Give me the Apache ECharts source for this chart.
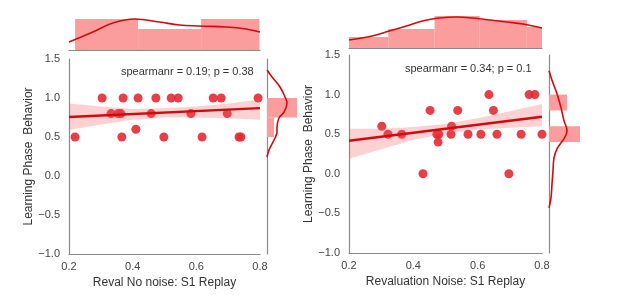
<!DOCTYPE html>
<html>
<head>
<meta charset="utf-8">
<script src="https://cdn.jsdelivr.net/npm/echarts@6/dist/echarts.min.js"></script>
<style>
  html, body { margin: 0; padding: 0; background: #fff; }
  #main { width: 617px; height: 295px; }
</style>
</head>
<body>
<div id="main"></div>
<script>
// ---- left panel: Reval No noise ----
var leftX = [0.304, 0.370, 0.417, 0.473, 0.521, 0.543, 0.653, 0.678, 0.794,
  0.332, 0.354, 0.363, 0.458, 0.583, 0.697,
  0.410,
  0.219, 0.366, 0.498, 0.618, 0.734, 0.740];
var leftY = [1, 1, 1, 1, 1, 1, 1, 1, 1,
  0.8, 0.8, 0.8, 0.8, 0.8, 0.8,
  0.6,
  0.5, 0.5, 0.5, 0.5, 0.5, 0.5];
var leftFitX = [0.2, 0.8];
var leftFitY = [0.756, 0.87];
var ciX = [0.2, 0.3, 0.4, 0.5, 0.6, 0.7, 0.8];
var leftLo = [0.59, 0.66, 0.72, 0.75, 0.75, 0.74, 0.72];
var leftHi = [0.93, 0.89, 0.86, 0.87, 0.89, 0.93, 0.98];
var leftTopEdges = [0.219, 0.417, 0.615, 0.798];
var leftTopHist = [31, 21, 31];
var leftTopKdeX = [0.2, 0.275, 0.3375, 0.406, 0.484, 0.547, 0.609, 0.694, 0.756, 0.8];
var leftTopKde = [8, 18, 27, 31, 28, 25, 24, 23, 21, 18];
var leftSideEdges = [[0.75, 1.0], [0.5, 0.75]];
var leftSideHist = [30, 7];
var leftSideKdeY = [1.359, 1.27, 1.141, 1.013, 0.936, 0.82, 0.744, 0.628, 0.564, 0.462, 0.333, 0.244];
var leftSideKde = [0, 5, 13, 18, 20, 17, 12, 10, 10, 7, 2, 0];

// ---- right panel: Revaluation Noise ----
var rightX = [0.635, 0.760, 0.778,
  0.452, 0.538, 0.649,
  0.302, 0.519,
  0.321, 0.364, 0.473, 0.479, 0.517, 0.570, 0.610, 0.660, 0.735, 0.800,
  0.477,
  0.430, 0.697];
var rightY = [1, 1, 1,
  0.8, 0.8, 0.8,
  0.6, 0.6,
  0.5, 0.5, 0.5, 0.5, 0.5, 0.5, 0.5, 0.5, 0.5, 0.5,
  0.4,
  0, 0];
var rightFitX = [0.2, 0.8];
var rightFitY = [0.418, 0.72];
var rightLo = [0.19, 0.31, 0.43, 0.51, 0.56, 0.58, 0.60];
var rightHi = [0.57, 0.57, 0.59, 0.63, 0.70, 0.79, 0.88];
var rightTopEdges = [0.2, 0.322, 0.466, 0.606, 0.753, 0.8];
var rightTopHist = [11, 19, 32, 28, 21];
var rightTopKdeX = [0.2, 0.272, 0.325, 0.378, 0.428, 0.481, 0.534, 0.584, 0.638, 0.691, 0.741, 0.8];
var rightTopKde = [8, 12, 17, 22, 27, 30, 31, 30, 28, 26, 24, 20];
var rightSideEdges = [[0.8, 1.0], [0.4, 0.6]];
var rightSideHist = [18, 31];
var rightSideKdeY = [1.30, 1.18, 1.01, 0.835, 0.67, 0.544, 0.443, 0.316, 0.2, 0.038, -0.127, -0.304, -0.43];
var rightSideKde = [0, 3, 8, 12, 15, 18, 15, 8, 5, 4, 3, 2, 0];

var stats = ['spearmanr = 0.19; p = 0.38', 'spearmanr = 0.34; p = 0.1'];
var xNames = ['Reval No noise: S1 Replay', 'Revaluation Noise: S1 Replay'];
var yName = 'Learning Phase  Behavior';

var FONT = 'Liberation Sans, Arial, sans-serif';
var SPINE = '#8a8a8a';
var DOT = '#e42a33';
var LINE = '#cf0a10';
var HIST = '#fb9d9d';
var BAND = 'rgba(240, 90, 90, 0.28)';

function fmt(v) {
  return v.toFixed(1).replace('-', '\u2212');
}
function zip(a, b) {
  return a.map(function (v, i) { return [v, b[i]]; });
}

var chartDom = document.getElementById('main');
var myChart = echarts.init(chartDom);

// grid indices: 0 main L, 1 top L, 2 side L, 3 main R, 4 top R, 5 side R
var grid = [
  { left: 69, top: 59, width: 191, height: 195 },
  { left: 69, top: 15, width: 191, height: 35 },
  { left: 267, top: 59, width: 40, height: 195 },
  { left: 349, top: 55, width: 193, height: 198 },
  { left: 349, top: 13, width: 193, height: 35 },
  { left: 549, top: 55, width: 40, height: 198 }
];

function mainX(gi, name) {
  return {
    gridIndex: gi, type: 'value', min: 0.2, max: 0.8, interval: 0.2,
    name: name, nameLocation: 'middle', nameGap: 19,
    nameTextStyle: { fontFamily: FONT, fontSize: 12, color: '#333' },
    axisLine: { onZero: false, lineStyle: { color: SPINE, width: 1.2 } },
    axisTick: { show: false },
    splitLine: { show: false },
    axisLabel: { fontFamily: FONT, fontSize: 11, color: '#444', margin: 7, formatter: fmt }
  };
}
function mainY(gi) {
  return {
    gridIndex: gi, type: 'value', min: -1, max: 1.5, interval: 0.5,
    name: yName, nameLocation: 'middle', nameGap: 34,
    nameTextStyle: { fontFamily: FONT, fontSize: 12, color: '#333' },
    axisLine: { show: true, onZero: false, lineStyle: { color: SPINE, width: 1.2 } },
    axisTick: { show: false },
    splitLine: { show: false },
    axisLabel: { fontFamily: FONT, fontSize: 11, color: '#444', margin: 9, formatter: fmt }
  };
}
function topX(gi) {
  return {
    gridIndex: gi, type: 'value', min: 0.2, max: 0.8,
    axisLine: { onZero: false, lineStyle: { color: SPINE, width: 1.2 } },
    axisTick: { show: false }, axisLabel: { show: false }, splitLine: { show: false }
  };
}
function topY(gi) {
  return { gridIndex: gi, type: 'value', min: 0, max: 35, show: false };
}
function sideX(gi) {
  return { gridIndex: gi, type: 'value', min: 0, max: 40, show: false };
}
function sideY(gi) {
  return {
    gridIndex: gi, type: 'value', min: -1, max: 1.5,
    axisLine: { show: true, onZero: false, lineStyle: { color: SPINE, width: 1.2 } },
    axisTick: { show: false }, axisLabel: { show: false }, splitLine: { show: false }
  };
}

function bandSeries(ax, lo, hi) {
  return {
    type: 'custom', xAxisIndex: ax, yAxisIndex: ax, z: 3, silent: true,
    data: [0],
    renderItem: function (params, api) {
      var pts = [];
      ciX.forEach(function (x, i) { pts.push(api.coord([x, hi[i]])); });
      for (var i = ciX.length - 1; i >= 0; i--) pts.push(api.coord([ciX[i], lo[i]]));
      return { type: 'polygon', shape: { points: pts }, style: { fill: BAND } };
    }
  };
}
function topHistSeries(ax, edges, h) {
  var d = h.map(function (v, i) { return [edges[i], edges[i + 1], v]; });
  return {
    type: 'custom', xAxisIndex: ax, yAxisIndex: ax, silent: true, data: d,
    renderItem: function (params, api) {
      var a = api.coord([api.value(0), api.value(2)]);
      var b = api.coord([api.value(1), 0]);
      return { type: 'rect', shape: { x: a[0], y: a[1], width: b[0] - a[0], height: b[1] - a[1] }, style: { fill: HIST } };
    }
  };
}
function sideHistSeries(ax, edges, w) {
  var d = w.map(function (v, i) { return [edges[i][0], edges[i][1], v]; });
  return {
    type: 'custom', xAxisIndex: ax, yAxisIndex: ax, silent: true, data: d,
    renderItem: function (params, api) {
      var a = api.coord([0, api.value(1)]);
      var b = api.coord([api.value(2), api.value(0)]);
      return { type: 'rect', shape: { x: a[0], y: a[1], width: b[0] - a[0], height: b[1] - a[1] }, style: { fill: HIST } };
    }
  };
}
function kdeSeries(ax, data) {
  return {
    type: 'line', xAxisIndex: ax, yAxisIndex: ax, data: data, smooth: 0.4,
    showSymbol: false, silent: true, z: 4,
    lineStyle: { color: LINE, width: 1.6 }
  };
}

var series = [
  // left main
  { type: 'scatter', xAxisIndex: 0, yAxisIndex: 0, data: zip(leftX, leftY), symbolSize: 9,
    itemStyle: { color: DOT, opacity: 0.9 }, z: 2 },
  bandSeries(0, leftLo, leftHi),
  { type: 'line', xAxisIndex: 0, yAxisIndex: 0, data: zip(leftFitX, leftFitY), showSymbol: false,
    lineStyle: { color: LINE, width: 2.4 }, z: 4 },
  topHistSeries(1, leftTopEdges, leftTopHist),
  kdeSeries(1, zip(leftTopKdeX, leftTopKde)),
  sideHistSeries(2, leftSideEdges, leftSideHist),
  kdeSeries(2, zip(leftSideKde, leftSideKdeY)),
  // right main
  { type: 'scatter', xAxisIndex: 3, yAxisIndex: 3, data: zip(rightX, rightY), symbolSize: 9,
    itemStyle: { color: DOT, opacity: 0.9 }, z: 2 },
  bandSeries(3, rightLo, rightHi),
  { type: 'line', xAxisIndex: 3, yAxisIndex: 3, data: zip(rightFitX, rightFitY), showSymbol: false,
    lineStyle: { color: LINE, width: 2.4 }, z: 4 },
  topHistSeries(4, rightTopEdges, rightTopHist),
  kdeSeries(4, zip(rightTopKdeX, rightTopKde)),
  sideHistSeries(5, rightSideEdges, rightSideHist),
  kdeSeries(5, zip(rightSideKde, rightSideKdeY))
];

var option = {
  animation: false,
  backgroundColor: '#fff',
  grid: grid,
  xAxis: [mainX(0, xNames[0]), topX(1), sideX(2), mainX(3, xNames[1]), topX(4), sideX(5)],
  yAxis: [mainY(0), topY(1), sideY(2), mainY(3), topY(4), sideY(5)],
  graphic: [
    { type: 'text', left: 121, top: 66, style: { text: stats[0], font: '11px ' + FONT, fill: '#333' } },
    { type: 'text', left: 405, top: 63, style: { text: stats[1], font: '11px ' + FONT, fill: '#333' } }
  ],
  series: series
};

option && myChart.setOption(option);
</script>
</body>
</html>
